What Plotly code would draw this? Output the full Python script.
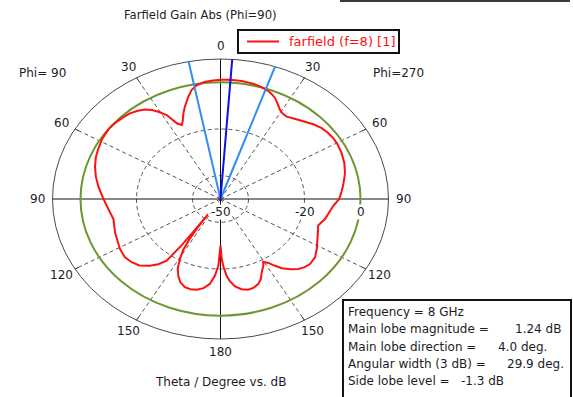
import numpy as np
import plotly.graph_objects as go

# Farfield gain cut at phi = 90 / 270.  Signed theta: negative values lie on the
# phi = 90 half (left), positive values on the phi = 270 half (right).
theta_deg = [
    -180.0, -178.5, -176.5, -174.0, -171.0, -167.7, -164.5, -161.4, -158.0, -155.4,
    -152.8, -150.6, -148.6, -147.2, -146.3, -145.8, -145.4, -145.0, -144.0, -141.5,
    -138.6, -134.5, -130.5, -126.2, -120.8, -115.5, -110.8, -106.5, -102.7, -96.5,
    -89.6, -83.1, -78.0, -72.9, -68.0, -63.5, -58.5, -53.0, -48.3, -44.5,
    -41.4, -38.0, -35.1, -32.7, -30.7, -28.1, -25.7, -23.6, -22.2, -20.0,
    -17.8, -14.7, -12.5, -9.9, -6.5, -3.0, 0.0, 4.0, 8.5, 11.5,
    13.9, 17.0, 20.1, 22.2, 24.3, 26.6, 29.1, 31.4, 33.8, 38.0,
    42.4, 46.0, 50.0, 53.5, 57.2, 61.0, 65.6, 71.0, 76.1, 82.0,
    86.0, 90.0, 94.1, 98.5, 103.0, 105.5, 108.1, 111.0, 114.3, 118.0,
    121.9, 126.5, 131.1, 134.2, 137.2, 140.3, 143.6, 146.0, 148.0, 150.4,
    151.8, 154.9, 157.2, 159.6, 162.6, 165.7, 169.0, 172.1, 174.6, 176.2,
    177.9, 179.0, 180.0,
]
gain_db = [
    -30.0, -21.5, -17.0, -13.4, -11.3, -10.2, -9.9, -10.1, -11.6, -13.8,
    -16.6, -20.5, -24.5, -29.5, -35.0, -42.0, -33.0, -26.0, -17.3, -14.3,
    -11.9, -9.4, -8.3, -7.7, -8.2, -9.1, -9.7, -10.4, -10.8, -9.8,
    -8.1, -6.1, -4.5, -3.1, -2.0, -1.3, -0.5, -0.06, -0.3, -0.7,
    -1.1, -2.0, -3.1, -4.7, -6.5, -9.2, -14.0, -15.4, -14.2, -11.2,
    -8.4, -4.7, -2.2, -0.5, 0.5, 0.9, 1.1, 1.24, 1.15, 0.9,
    0.7, 0.1, -0.6, -1.5, -2.6, -4.4, -6.3, -7.2, -7.5, -6.5,
    -5.2, -3.9, -2.8, -2.3, -2.0, -2.1, -2.5, -3.2, -4.2, -5.7,
    -6.7, -7.6, -9.6, -10.8, -11.7, -12.6, -13.3, -12.7, -11.9, -10.7,
    -9.5, -8.0, -7.6, -8.1, -9.1, -10.9, -13.1, -15.6, -17.7, -19.1,
    -17.6, -15.3, -12.8, -11.2, -10.2, -9.9, -10.6, -12.2, -14.6, -17.0,
    -20.8, -24.3, -30.0,
]
series_name = "farfield (f=8) [1]"

# Summary figures of the cut
freq_ghz = 8
main_lobe_db = 1.24
main_lobe_dir = 4.0
width_3db = 29.9
side_lobe_db = -1.3

# Radial (dB) scale of the polar frame
R_MIN = -50.0            # value at the centre
R_MAX = 10.0             # value at the outer ring
grid_db = [-40, -20]
ref_db = 0
radial_labels = [-50, -20, 0]
spoke_deg = [-150, -120, -60, -30, 30, 60, 120, 150]
angle_label_deg = [-150, -120, -90, -60, -30, 0, 30, 60, 90, 120, 150, 180]

FONT = "DejaVu Sans"
TXT = "#1c1c28"
RED = "#ff1010"
W, H = 573, 397


def polar_xy(t_deg, db):
    """Signed theta (0 = up, clockwise) and dB value -> frame coordinates."""
    t = np.radians(np.asarray(t_deg, float))
    r = np.clip(np.asarray(db, float) - R_MIN, 0, None)
    return r * np.sin(t), r * np.cos(t)


fig = go.Figure()
shapes = []

# dashed level rings
for g in grid_db:
    r = g - R_MIN
    shapes.append(dict(type="circle", xref="x", yref="y", x0=-r, x1=r, y0=-r, y1=r,
                       line=dict(color="#555", width=1, dash="4px,3px"), layer="below"))
# dashed spokes and small ticks on the outer ring
for a in spoke_deg:
    xs, ys = polar_xy([a, a], [R_MIN, R_MAX])
    shapes.append(dict(type="line", xref="x", yref="y", x0=xs[0], y0=ys[0], x1=xs[1], y1=ys[1],
                       line=dict(color="#555", width=1, dash="4px,3px"), layer="below"))
    xs, ys = polar_xy([a, a], [R_MAX - 1.5, R_MAX])
    shapes.append(dict(type="line", xref="x", yref="y", x0=xs[0], y0=ys[0], x1=xs[1], y1=ys[1],
                       line=dict(color="#222", width=1), layer="below"))
# solid axes through the centre
rr = R_MAX - R_MIN
shapes.append(dict(type="line", xref="x", yref="y", x0=-rr, y0=0, x1=rr, y1=0,
                   line=dict(color="#111", width=1), layer="below"))
shapes.append(dict(type="line", xref="x", yref="y", x0=0, y0=-rr, x1=0, y1=rr,
                   line=dict(color="#111", width=1), layer="below"))
# outer ring
shapes.append(dict(type="circle", xref="x", yref="y", x0=-rr, x1=rr, y0=-rr, y1=rr,
                   line=dict(color="#4a4a4a", width=1), layer="below"))
# 0 dB reference ring
r0 = ref_db - R_MIN
shapes.append(dict(type="circle", xref="x", yref="y", x0=-r0, x1=r0, y0=-r0, y1=r0,
                   line=dict(color="#6f9630", width=2), layer="below"))

# gain curve
cx, cy = polar_xy(theta_deg, gain_db)
fig.add_trace(go.Scatter(x=cx, y=cy, mode="lines", name=series_name, showlegend=False,
                         line=dict(color=RED, width=2), hoverinfo="skip"))

# half-power directions and main lobe direction
for a in (main_lobe_dir - width_3db / 2, main_lobe_dir + width_3db / 2):
    xs, ys = polar_xy([a, a], [R_MIN, R_MAX])
    fig.add_trace(go.Scatter(x=xs, y=ys, mode="lines", showlegend=False, hoverinfo="skip",
                             line=dict(color="#2f8ff0", width=2)))
xs, ys = polar_xy([main_lobe_dir, main_lobe_dir], [R_MIN, R_MAX])
fig.add_trace(go.Scatter(x=xs, y=ys, mode="lines", showlegend=False, hoverinfo="skip",
                         line=dict(color="#1010e6", width=2)))

annotations = []
# angle labels around the frame
for a in angle_label_deg:
    lx, ly = polar_xy(a, R_MIN + 65.5)
    annotations.append(dict(x=float(lx), y=float(ly), xref="x", yref="y", text=str(abs(a)),
                            showarrow=False, font=dict(family=FONT, size=12, color=TXT)))
# radial level labels
for v in radial_labels:
    annotations.append(dict(x=v - R_MIN, y=0, xref="x", yref="y", text=str(v), showarrow=False,
                            yshift=-13, bgcolor="white", borderpad=0,
                            font=dict(family=FONT, size=12, color=TXT)))


def px(x, y, text, anchor="center", size=12, color=TXT):
    annotations.append(dict(x=x / W, y=1 - y / H, xref="paper", yref="paper", text=text,
                            showarrow=False, xanchor=anchor, yanchor="middle",
                            font=dict(family=FONT, size=size, color=color)))


def box(x0, y0, x1, y1, width=2):
    shapes.append(dict(type="rect", xref="paper", yref="paper", x0=x0 / W, x1=x1 / W,
                       y0=1 - y1 / H, y1=1 - y0 / H, line=dict(color="#111", width=width),
                       fillcolor="white", layer="above"))


px(200, 15, "Farfield Gain Abs (Phi=90)", size=11.6)
px(42, 73, "Phi= 90")
px(398, 73, "Phi=270")
px(220, 382, "Theta / Degree vs. dB")

# legend box with line sample
box(238, 30, 399, 53)
shapes.append(dict(type="line", xref="paper", yref="paper", x0=247 / W, x1=279 / W,
                   y0=1 - 41.5 / H, y1=1 - 41.5 / H, line=dict(color=RED, width=2),
                   layer="above"))
px(287, 41.5, series_name, anchor="left", size=13, color=RED)

# info box
box(343, 300, 571, 405)
info_rows = [
    ("Frequency = %d GHz" % freq_ghz, None, None),
    ("Main lobe magnitude =", "%.2f dB" % main_lobe_db, 513),
    ("Main lobe direction =", "%.1f deg." % main_lobe_dir, 496),
    ("Angular width (3 dB) =", "%.1f deg." % width_3db, 505),
    ("Side lobe level =", "%.1f dB" % side_lobe_db, 459),
]
for i, (lab, val, vx) in enumerate(info_rows):
    y = 312 + i * 17.3
    px(346, y, lab, anchor="left")
    if val is not None:
        px(vx, y, val, anchor="left")

# window edge line along the top
shapes.append(dict(type="rect", xref="paper", yref="paper", x0=340 / W, x1=570 / W,
                   y0=1 - 2 / H, y1=1, line=dict(width=0), fillcolor="#3c3c3c", layer="above"))

CX, CY = 220.5, 199.0
SX, SY = 2.8, 2.8 * 140 / 168
fig.update_layout(
    width=W, height=H, autosize=False,
    margin=dict(l=0, r=0, t=0, b=0, pad=0),
    paper_bgcolor="white", plot_bgcolor="white",
    xaxis=dict(visible=False, range=[(0 - CX) / SX, (W - CX) / SX], fixedrange=True),
    yaxis=dict(visible=False, range=[(CY - H) / SY, CY / SY], fixedrange=True),
    showlegend=False,
    shapes=shapes, annotations=annotations,
)

fig.write_html("out.html")
